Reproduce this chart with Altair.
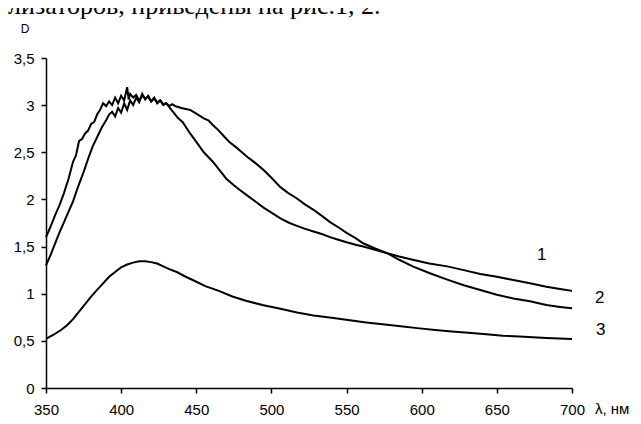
import altair as alt
import pandas as pd

# ---- data ----
wl_1 = [350, 353, 356, 359, 362, 365, 368, 370, 372, 374, 376, 378, 380, 382, 384, 386,
        388, 390, 392, 394, 396, 398, 400, 402, 404, 405, 406, 408, 410, 412, 414, 416,
        418, 420, 422, 424, 426, 428, 430, 432, 434, 436, 438, 441, 445, 450, 455, 461,
        466, 470, 475, 479, 484, 490, 495, 500, 506, 512, 517, 522, 528, 534, 539, 545,
        550, 556, 561, 569, 577, 585, 594, 605, 617, 628, 639, 650, 661, 672, 683, 692, 700]
d_1 = [1.60, 1.71, 1.83, 1.94, 2.07, 2.22, 2.40, 2.47, 2.62, 2.64, 2.70, 2.73, 2.80, 2.82, 2.90, 2.95,
       3.02, 2.99, 3.04, 3.00, 3.08, 3.02, 3.10, 3.05, 3.19, 3.06, 3.12, 3.08, 3.11, 3.05, 3.10, 3.07,
       3.09, 3.04, 3.07, 3.03, 3.05, 3.01, 3.02, 2.98, 2.94, 2.90, 2.86, 2.82, 2.72, 2.61, 2.50, 2.40,
       2.30, 2.22, 2.15, 2.10, 2.04, 1.97, 1.91, 1.86, 1.80, 1.75, 1.72, 1.69, 1.66, 1.63, 1.60, 1.57,
       1.545, 1.52, 1.50, 1.465, 1.43, 1.395, 1.36, 1.32, 1.29, 1.25, 1.21, 1.18, 1.145, 1.11, 1.075, 1.05, 1.03]

wl_2 = [350, 353, 356, 359, 362, 365, 368, 371, 375, 378, 381, 384, 387, 390, 392, 394,
        396, 398, 400, 402, 404, 406, 408, 410, 412, 414, 416, 418, 420, 422, 424, 426,
        428, 430, 432, 434, 436, 438, 440, 443, 446, 450, 455, 458, 461, 465, 469, 472,
        476, 479, 484, 489, 495, 500, 506, 511, 517, 522, 528, 534, 539, 545, 550, 556,
        561, 569, 577, 585, 594, 605, 617, 628, 639, 650, 661, 672, 683, 692, 700]
d_2 = [1.30, 1.41, 1.53, 1.65, 1.76, 1.87, 1.98, 2.12, 2.29, 2.43, 2.56, 2.66, 2.76, 2.84, 2.90, 2.93,
       2.88, 2.97, 2.92, 3.02, 2.95, 3.05, 3.00, 3.08, 3.03, 3.12, 3.06, 3.10, 3.04, 3.08, 3.02, 3.05,
       3.00, 3.02, 2.99, 3.01, 2.99, 2.98, 2.97, 2.96, 2.95, 2.91, 2.86, 2.84, 2.79, 2.73, 2.66, 2.61,
       2.56, 2.52, 2.45, 2.39, 2.31, 2.23, 2.13, 2.07, 2.01, 1.95, 1.89, 1.82, 1.76, 1.70, 1.645, 1.59,
       1.535, 1.48, 1.43, 1.36, 1.29, 1.22, 1.15, 1.09, 1.04, 0.99, 0.95, 0.92, 0.88, 0.86, 0.845]

wl_3 = [350, 355, 360, 364, 368, 372, 376, 380, 384, 388, 392, 396, 400, 404, 408, 412,
        416, 420, 424, 428, 432, 437, 443, 449, 456, 465, 474, 483, 494, 506, 517, 528,
        540, 551, 563, 574, 586, 597, 609, 620, 631, 643, 654, 665, 683, 700]
d_3 = [0.52, 0.565, 0.615, 0.665, 0.73, 0.81, 0.89, 0.97, 1.04, 1.11, 1.18, 1.23, 1.28, 1.31, 1.33, 1.345,
       1.345, 1.335, 1.32, 1.29, 1.26, 1.23, 1.18, 1.135, 1.08, 1.03, 0.97, 0.925, 0.88, 0.84, 0.80, 0.77,
       0.745, 0.72, 0.695, 0.675, 0.655, 0.635, 0.615, 0.60, 0.585, 0.57, 0.555, 0.545, 0.53, 0.52]

x_ticks = [350, 400, 450, 500, 550, 600, 650, 700]
y_ticks = [0, 0.5, 1, 1.5, 2, 2.5, 3, 3.5]

frames = []
for name, w, d in (("1", wl_1, d_1), ("2", wl_2, d_2), ("3", wl_3, d_3)):
    frames.append(pd.DataFrame({"wl": w, "D": d, "series": name}))
df = pd.concat(frames, ignore_index=True)

FONT = "Liberation Sans"

lines = alt.Chart(df).mark_line(color="black", strokeWidth=2).encode(
    x=alt.X("wl:Q",
            scale=alt.Scale(domain=[350, 700], nice=False, zero=False),
            axis=alt.Axis(values=x_ticks, title=None, grid=False, tickSize=5,
                          domainColor="black", tickColor="black", domainWidth=1.5, tickWidth=1.5,
                          labelColor="black", labelFont=FONT, labelFontSize=15,
                          labelPadding=9, labelFlush=False)),
    y=alt.Y("D:Q",
            scale=alt.Scale(domain=[0, 3.5], nice=False),
            axis=alt.Axis(values=y_ticks, title=None, grid=False, tickSize=5,
                          domainColor="black", tickColor="black", domainWidth=1.5, tickWidth=1.5,
                          labelColor="black", labelFont=FONT, labelFontSize=15,
                          labelPadding=7, labelFlush=False,
                          labelExpr="replace(toString(datum.value), '.', ',')")),
    detail="series:N",
    order="wl:Q",
)

def label(txt, x, y, size=15, font=FONT, align="left", baseline="middle"):
    return alt.Chart(pd.DataFrame({"t": [txt]})).mark_text(
        font=font, fontSize=size, color="black", align=align, baseline=baseline
    ).encode(x=alt.value(x), y=alt.value(y), text="t:N")

annotations = [
    label("1", 491, 197, size=17),
    label("2", 549, 240, size=17),
    label("3", 550, 272, size=17),
    label("D", -21, -29, size=12, align="center"),
    label("λ, нм", 549, 351, size=15),
    label("лизаторов, приведены на рис.1, 2.", -38, -44, size=26,
          font="Liberation Serif", baseline="alphabetic"),
]

chart = alt.layer(lines, *annotations).properties(
    width=526,
    height=330,
    padding={"left": 38, "top": 50, "right": 61, "bottom": 28},
    autosize=alt.AutoSizeParams(type="none"),
).configure_view(stroke=None)

chart.save("out.html", embed_options={"renderer": "svg", "actions": False})
